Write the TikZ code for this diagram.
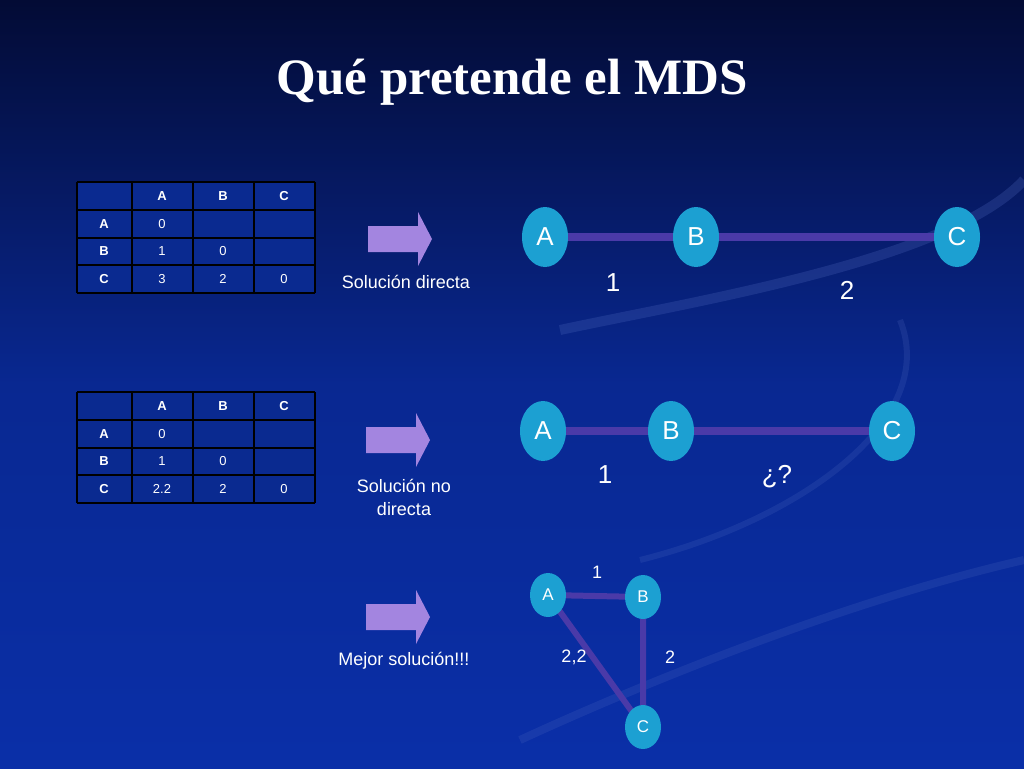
\documentclass[tikz,border=0pt]{standalone}
\usepackage{fontspec}
\setmainfont{Liberation Serif}
\newfontfamily\arial{Liberation Sans}
\usetikzlibrary{shapes.geometric}
\definecolor{bgtop}{HTML}{030B35}
\definecolor{bgbot}{HTML}{0A2FA8}
\definecolor{cellfill}{HTML}{0A2A90}
\definecolor{lav}{HTML}{A385E0}
\definecolor{nodecol}{HTML}{1CA0D2}
\definecolor{edgecol}{HTML}{4A3AA8}
\tikzset{
  bignode/.style={ellipse,fill=nodecol,minimum width=46pt,minimum height=60pt,inner sep=0pt,text=white,font=\arial\fontsize{26}{28}\selectfont},
  smallnode/.style={ellipse,fill=nodecol,minimum width=36pt,minimum height=44pt,inner sep=0pt,text=white,font=\arial\fontsize{17}{19}\selectfont},
  edge/.style={draw=edgecol,line width=8pt},
  sedge/.style={draw=edgecol,line width=6pt},
  biglab/.style={text=white,font=\arial\fontsize{26}{28}\selectfont},
  smalllab/.style={text=white,font=\arial\fontsize{18}{20}\selectfont},
  txt/.style={text=white,font=\arial\fontsize{18}{23}\selectfont,align=center},
  cell/.style={text=white,font=\arial\fontsize{13}{15}\selectfont},
  hcell/.style={cell,font=\arial\bfseries\fontsize{13}{15}\selectfont},
}
\newcommand{\mytable}[3]{%
  \fill[cellfill] (77,#1) rectangle (315,#1+111);
  \foreach \yy in {0,28,56,83,111}{\draw[black,line width=1.2pt] (77,#1+\yy) -- (315,#1+\yy);}
  \foreach \xx in {77,132,193,254,315}{\draw[black,line width=1.2pt] (\xx,#1) -- (\xx,#1+111);}
  \node[hcell] (#3hA) at (162,#1+14) {A};
  \node[hcell] (#3hB) at (223,#1+14) {B};
  \node[hcell] (#3hC) at (284,#1+14) {C};
  \node[hcell] (#3rA) at (104,#1+42) {A};
  \node[hcell] (#3rB) at (104,#1+69) {B};
  \node[hcell] (#3rC) at (104,#1+97) {C};
  \node[cell] (#3aa) at (162,#1+42) {0};
  \node[cell] (#3ba) at (162,#1+69) {1};
  \node[cell] (#3bb) at (223,#1+69) {0};
  \node[cell] (#3ca) at (162,#1+97) {#2};
  \node[cell] (#3cb) at (223,#1+97) {2};
  \node[cell] (#3cc) at (284,#1+97) {0};
}
\newcommand{\blockarrow}[2]{%
  \fill[lav] (#1-32,#2-13) -- (#1+18,#2-13) -- (#1+18,#2-27) -- (#1+32,#2) -- (#1+18,#2+27) -- (#1+18,#2+13) -- (#1-32,#2+13) -- cycle;
}
\begin{document}
\begin{tikzpicture}[x=1pt,y=-1pt]
\useasboundingbox (0,0) rectangle (1024,768);
\shade[top color=bgtop,bottom color=bgbot,middle color=bgbot!80!bgtop] (0,0) rectangle (1024,768);
\draw[bgbot!70!white,opacity=0.25,line width=10pt] (1024,180) .. controls (950,260) and (700,300) .. (560,330);
\draw[bgbot!70!white,opacity=0.2,line width=8pt] (1024,560) .. controls (850,600) and (650,680) .. (520,740);
\draw[bgbot!70!white,opacity=0.2,line width=6pt] (900,320) .. controls (940,420) and (800,520) .. (640,560);
\node (title) [text=white,font=\bfseries\fontsize{51}{56}\selectfont] at (512,82) {Qué pretende el MDS};
\mytable{182}{3}{t}
\mytable{392}{2.2}{u}
\blockarrow{400}{239}
\blockarrow{398}{440}
\blockarrow{398}{617}
\node[txt] (l1) at (406,282) {Solución directa};
\node[txt] (l2) at (404,497) {Solución no\\directa};
\node[txt] (l3) at (404,661) {Mejor solución!!!};
\coordinate (a1) at (545,237); \coordinate (b1) at (696,237); \coordinate (c1) at (957,237);
\draw[edge] (a1) -- (b1) -- (c1);
\node[bignode] (A1) at (a1) {A};
\node[bignode] (B1) at (b1) {B};
\node[bignode] (C1) at (c1) {C};
\node[biglab] (n1) at (613,283) {1};
\node[biglab] (n2) at (847,290) {2};
\coordinate (a2) at (543,431); \coordinate (b2) at (671,431); \coordinate (c2) at (892,431);
\draw[edge] (a2) -- (b2) -- (c2);
\node[bignode] (A2) at (a2) {A};
\node[bignode] (B2) at (b2) {B};
\node[bignode] (C2) at (c2) {C};
\node[biglab] (m1) at (605,475) {1};
\node[biglab] (m2) at (777,477) {¿?};
\coordinate (a3) at (548,595); \coordinate (b3) at (643,597); \coordinate (c3) at (643,727);
\draw[sedge] (a3) -- (b3) -- (c3) -- (a3);
\node[smallnode] (A3) at (a3) {A};
\node[smallnode] (B3) at (b3) {B};
\node[smallnode] (C3) at (c3) {C};
\node[smalllab] (k1) at (597,572) {1};
\node[smalllab] (k2) at (574,657) {2,2};
\node[smalllab] (k3) at (670,657) {2};
\end{tikzpicture}
\end{document}
